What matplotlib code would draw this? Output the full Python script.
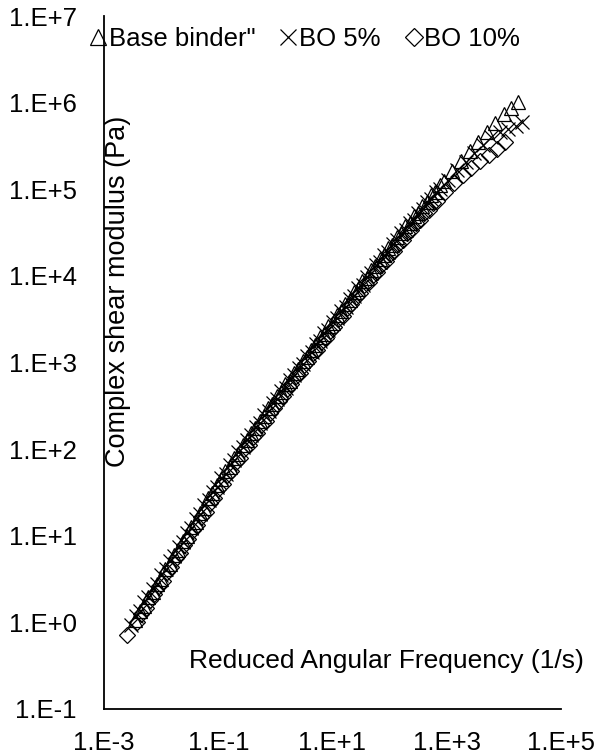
import matplotlib
matplotlib.use("Agg")
import matplotlib.pyplot as plt

plt.rcParams['font.family'] = ['Liberation Sans', 'DejaVu Sans']

# Base binder (triangles)
freq_base = [3.55e-3, 5.0e-3, 7.1e-3, 1.0e-2, 1.41e-2, 2.0e-2, 2.8e-2, 4.0e-2, 5.6e-2, 7.9e-2,
             0.112, 0.158, 0.224, 0.316, 0.447, 0.63, 0.89, 1.26, 1.78, 2.5,
             3.55, 5.0, 7.1, 10, 14.1, 20, 28, 40, 56, 79,
             112, 158, 224, 316, 447, 631, 891, 1260, 1780, 2510,
             3550, 5010, 7080, 1.0e4, 1.35e4, 1.78e4]
g_base = [1.07, 1.55, 2.24, 3.2, 4.7, 6.9, 10.0, 14.5, 21, 31,
          45, 63, 89, 126, 174, 240, 331, 457, 617, 851,
          1150, 1580, 2140, 2880, 3890, 5250, 7080, 9550, 1.29e4, 1.74e4,
          2.29e4, 3.09e4, 4.07e4, 5.37e4, 7.08e4, 9.33e4, 1.23e5, 1.62e5, 2.14e5, 2.75e5,
          3.55e5, 4.57e5, 5.89e5, 7.41e5, 8.7e5, 1.02e6]
# overlapping segment of the same binder
freq_base_b = [4.2e-3, 5.96e-3, 8.4e-3, 1.19e-2, 1.68e-2, 2.37e-2, 3.35e-2, 4.7e-2, 6.7e-2, 9.4e-2,
               0.133, 0.188, 0.266, 0.376, 0.53, 0.75, 1.06, 1.5, 2.11, 2.99,
               4.2, 5.96, 8.4, 11.9, 16.8, 23.7, 33.5, 47.3, 66.8, 94.4,
               133, 188, 266, 376, 531, 750]
g_base_b = [1.35, 1.95, 2.8, 4.1, 6.0, 8.7, 12.6, 18.5, 27, 39,
            56, 79, 112, 155, 214, 295, 407, 562, 759, 1050,
            1410, 1950, 2630, 3550, 4790, 6460, 8710, 1.17e4, 1.58e4, 2.09e4,
            2.82e4, 3.72e4, 4.9e4, 6.46e4, 8.5e4, 1.12e5]

# BO 5% (crosses)
freq_bo5 = [3.0e-3, 4.3e-3, 6.0e-3, 8.5e-3, 1.2e-2, 1.7e-2, 2.4e-2, 3.4e-2, 4.8e-2, 6.8e-2,
            9.5e-2, 0.135, 0.19, 0.27, 0.38, 0.54, 0.76, 1.07, 1.51, 2.14,
            3.0, 4.3, 6.0, 8.5, 12.0, 17.0, 24, 34, 48, 68,
            95, 135, 190, 270, 380, 540, 760, 1070, 1510, 2140,
            3000, 4300, 6000, 8500, 1.2e4, 1.6e4, 2.1e4]
g_bo5 = [0.93, 1.35, 1.95, 2.8, 4.1, 5.9, 8.5, 12.3, 17.8, 25.7,
         37, 52, 74, 105, 145, 200, 275, 380, 513, 708,
         955, 1320, 1780, 2400, 3240, 4370, 5890, 7940, 1.07e4, 1.45e4,
         1.91e4, 2.57e4, 3.39e4, 4.47e4, 5.89e4, 7.76e4, 1.0e5, 1.29e5, 1.66e5, 2.09e5,
         2.63e5, 3.24e5, 4.0e5, 4.6e5, 5.0e5, 5.4e5, 5.9e5]
freq_bo5_b = [3.59e-3, 5.07e-3, 7.16e-3, 1.01e-2, 1.43e-2, 2.02e-2, 2.85e-2, 4.03e-2, 5.69e-2, 8.04e-2,
              0.1135, 0.160, 0.226, 0.32, 0.452, 0.638, 0.90, 1.27, 1.80, 2.54,
              3.59, 5.07, 7.16, 10.1, 14.3, 20.2, 28.5, 40.3, 56.9, 80.4,
              113.5, 160, 226, 320, 452, 638]
g_bo5_b = [1.17, 1.70, 2.45, 3.55, 5.1, 7.4, 10.7, 15.5, 22.4, 32.4,
           46.8, 66, 93, 129, 178, 245, 339, 468, 631, 871,
           1175, 1620, 2190, 2950, 3980, 5370, 7240, 9770, 1.32e4, 1.74e4,
           2.34e4, 3.09e4, 4.07e4, 5.37e4, 7.08e4, 9.33e4]

# BO 10% (diamonds)
freq_bo10 = [2.5e-3, 3.8e-3, 5.4e-3, 7.6e-3, 1.07e-2, 1.5e-2, 2.1e-2, 3.0e-2, 4.3e-2, 6.0e-2,
             8.5e-2, 0.12, 0.17, 0.24, 0.34, 0.48, 0.68, 0.95, 1.35, 1.9,
             2.7, 3.8, 5.4, 7.6, 10.7, 15.1, 21.4, 30, 43, 60,
             85, 120, 170, 240, 340, 480, 680, 950, 1350, 1900,
             2700, 3800, 5400, 7600, 1.05e4]
g_bo10 = [0.72, 1.0, 1.45, 2.1, 3.0, 4.4, 6.3, 9.1, 13.2, 19,
          27.5, 40, 56, 79, 112, 155, 214, 295, 407, 562,
          759, 1050, 1410, 1910, 2570, 3470, 4680, 6310, 8510, 1.12e4,
          1.48e4, 1.95e4, 2.57e4, 3.39e4, 4.47e4, 5.75e4, 7.41e4, 9.33e4, 1.17e5, 1.45e5,
          1.78e5, 2.14e5, 2.51e5, 2.95e5, 3.47e5]
freq_bo10_b = [4.52e-3, 6.38e-3, 9.0e-3, 1.27e-2, 1.80e-2, 2.54e-2, 3.59e-2, 5.07e-2, 7.16e-2, 0.101,
               0.143, 0.202, 0.285, 0.403, 0.569, 0.80, 1.135, 1.60, 2.26, 3.2,
               4.52, 6.38, 9.0, 12.7, 18.0, 25.4, 35.9, 50.7, 71.6, 101,
               143, 202, 285, 403, 569]
g_bo10_b = [1.26, 1.82, 2.63, 3.80, 5.5, 7.9, 11.5, 16.6, 24, 34.7,
            50, 71, 100, 138, 191, 263, 363, 501, 692, 933,
            1290, 1740, 2340, 3160, 4270, 5750, 7760, 1.02e4, 1.35e4, 1.78e4,
            2.34e4, 3.09e4, 4.07e4, 5.37e4, 6.92e4]

x_ticks = [1e-3, 1e-1, 1e1, 1e3, 1e5]
x_ticklabels = ['1.E-3', '1.E-1', '1.E+1', '1.E+3', '1.E+5']
y_ticks = [1e-1, 1e0, 1e1, 1e2, 1e3, 1e4, 1e5, 1e6, 1e7]
y_ticklabels = ['1.E-1', '1.E+0', '1.E+1', '1.E+2', '1.E+3', '1.E+4', '1.E+5', '1.E+6', '1.E+7']

fs = 18.5

fig = plt.figure(figsize=(5.98, 7.55), dpi=100)
ax = fig.add_axes([104/598, 1 - 709/755, (561 - 104)/598, (709 - 16)/755])

tri = dict(linestyle='none', marker='^', markersize=10, markerfacecolor='none',
           markeredgecolor='black', markeredgewidth=0.9)
crs = dict(linestyle='none', marker='x', markersize=10.5, markeredgecolor='black',
           markeredgewidth=0.9)
dia = dict(linestyle='none', marker='D', markersize=8, markerfacecolor='none',
           markeredgecolor='black', markeredgewidth=0.9)

ax.plot(freq_base, g_base, label='Base binder"', **tri)
ax.plot(freq_base_b, g_base_b, **tri)
ax.plot(freq_bo5, g_bo5, label='BO 5%', **crs)
ax.plot(freq_bo5_b, g_bo5_b, **crs)
ax.plot(freq_bo10, g_bo10, label='BO 10%', **dia)
ax.plot(freq_bo10_b, g_bo10_b, **dia)

ax.set_xscale('log')
ax.set_yscale('log')
ax.set_xlim(1e-3, 1e5)
ax.set_ylim(1e-1, 1e7)
ax.set_xticks(x_ticks)
ax.set_xticklabels(x_ticklabels)
ax.set_yticks(y_ticks)
ax.set_yticklabels(y_ticklabels)
ax.minorticks_off()
ax.tick_params(axis='both', length=0, labelsize=fs)
ax.tick_params(axis='y', pad=19.5)
ax.tick_params(axis='x', pad=15.5)
for s in ['top', 'right']:
    ax.spines[s].set_visible(False)
for s in ['left', 'bottom']:
    ax.spines[s].set_linewidth(1.3)

fig.text(118/598, 1 - 291/755, 'Complex shear modulus (Pa)', rotation=90,
         ha='center', va='center', fontsize=19.5)
fig.text(386/598, 1 - 661/755, 'Reduced Angular Frequency (1/s)',
         ha='center', va='center', fontsize=19)

handles, labels = ax.get_legend_handles_labels()
fig.legend(handles, labels, loc='center left', bbox_to_anchor=(91/598, 1 - 39/755), ncol=3,
           frameon=False, fontsize=fs, handlelength=0.55, handletextpad=0.15,
           columnspacing=1.0, borderpad=0, borderaxespad=0, markerscale=1.1)

fig.savefig('out.png', dpi=100)
